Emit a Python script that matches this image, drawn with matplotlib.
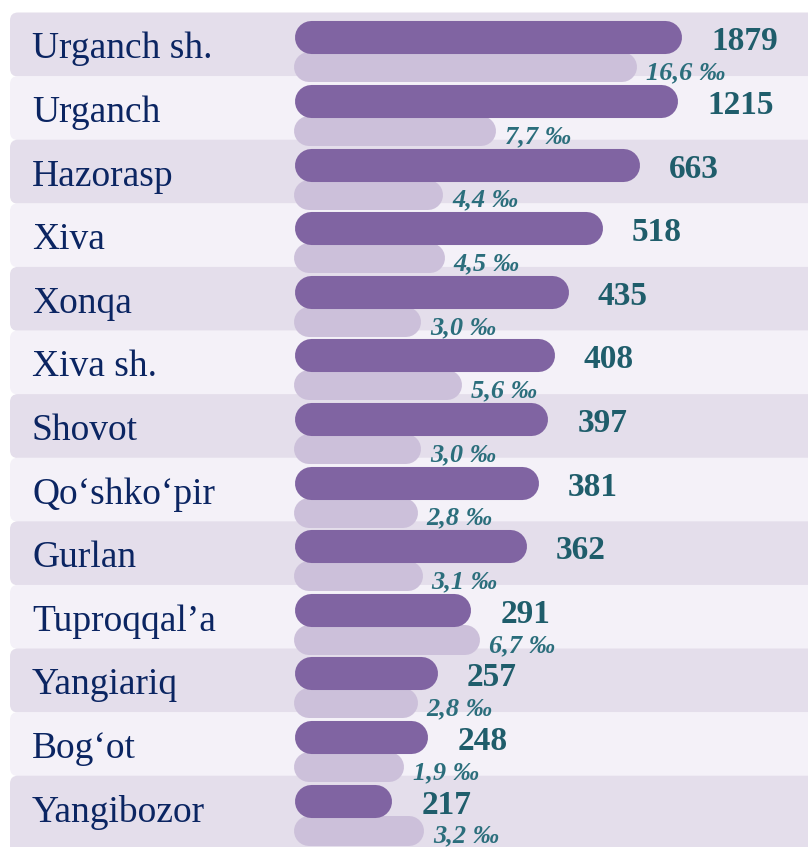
import numpy as np
import matplotlib
matplotlib.use("Agg")
import matplotlib.pyplot as plt
from matplotlib.patches import FancyBboxPatch

# tumanlar / shaharlar
districts = ["Urganch sh.", "Urganch", "Hazorasp", "Xiva", "Xonqa", "Xiva sh.",
             "Shovot", "Qo\u2018shko\u2018pir", "Gurlan", "Tuproqqal\u2019a",
             "Yangiariq", "Bog\u2018ot", "Yangibozor"]
counts = [1879, 1215, 663, 518, 435, 408, 397, 381, 362, 291, 257, 248, 217]
permille = [16.6, 7.7, 4.4, 4.5, 3.0, 5.6, 3.0, 2.8, 3.1, 6.7, 2.8, 1.9, 3.2]

W, H = 808, 847
dark_bar = "#8064a2"
light_bar = "#ccc0da"
band_cols = ["#e4deeb", "#f4f1f8"]
name_col = "#0b2562"
val_col = "#1f5d6b"
pm_col = "#2b6e7c"
serif = ["Liberation Serif", "DejaVu Serif"]

fig = plt.figure(figsize=(W / 100, H / 100), dpi=100)

# background bands + names, in pixel units
bg = fig.add_axes([0, 0, 1, 1])
bg.set_xlim(0, W)
bg.set_ylim(H, 0)
bg.axis("off")

pitch = 63.6
yd = 37.5 + pitch * np.arange(len(districts))   # dark bar centre
yl = yd + 30                                      # light bar centre

n = len(districts)
for i, name in enumerate(districts):
    h = 64 if i < n - 1 else 90   # last band runs off the bottom edge
    band = FancyBboxPatch((10, yd[i] - 25), 820, h,
                          boxstyle="round,pad=0,rounding_size=8",
                          fc=band_cols[i % 2], ec="none", zorder=0)
    bg.add_patch(band)
    bg.text(32, yd[i] + 21, name, fontsize=27, family=serif, color=name_col,
            va="baseline", ha="left")

# dark bars: compressed scale (long values saturate, like the original infographic)
v0, s = 170.0, 233.0
fwd = lambda v: 1 - np.exp(-(np.asarray(v, float) - v0) / s)
inv = lambda u: v0 - s * np.log(1 - np.clip(np.asarray(u, float), None, 0.999999))
x_start = 310.5
span = 355.0
axd = fig.add_axes([x_start / W, 0, span / W, 1])
axd.set_xscale("function", functions=(fwd, inv))
axd.set_xlim(v0, 20000)
axd.set_ylim(H, 0)
axd.axis("off")

# light bars: plain linear axis with an offset baseline
l_start = 309.0
k_l = 15.87
base_l = -3.11
axl = fig.add_axes([l_start / W, 0, (W - l_start) / W, 1], sharey=axd)
axl.set_xlim(base_l, base_l + (W - l_start) / k_l)
axl.axis("off")
axl.patch.set_alpha(0)
axd.patch.set_alpha(0)

for i in range(n):
    axl.plot([base_l, permille[i]], [yl[i], yl[i]], lw=21.6, color=light_bar,
             solid_capstyle="round", clip_on=False, zorder=1)
    txt = f"{permille[i]:.1f}".replace(".", ",") + " \u2030"
    axl.annotate(txt, (permille[i], yl[i]), xytext=(24, -12),
                 textcoords="offset pixels", fontsize=19, family=serif,
                 style="italic", weight="bold", color=pm_col,
                 va="baseline", ha="left", annotation_clip=False)

for i in range(n):
    axd.plot([v0, counts[i]], [yd[i], yd[i]], lw=23.8, color=dark_bar,
             solid_capstyle="round", clip_on=False, zorder=2)
    axd.annotate(str(counts[i]), (counts[i], yd[i]), xytext=(46, -13),
                 textcoords="offset pixels", fontsize=24, family=serif,
                 weight="bold", color=val_col, va="baseline", ha="left",
                 annotation_clip=False)

# dark bars above light bars
axd.set_zorder(3)
axl.set_zorder(2)

fig.savefig("out.png", dpi=100)
